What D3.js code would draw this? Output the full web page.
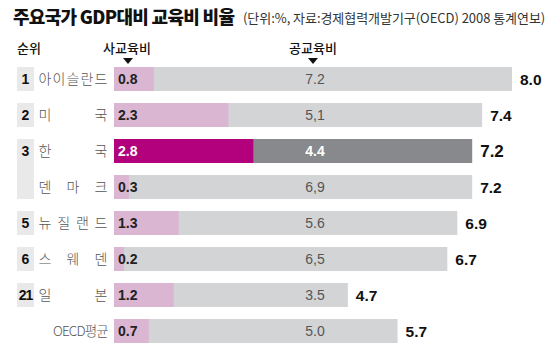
<!DOCTYPE html>
<html><head><meta charset="utf-8">
<script src="https://cdn.jsdelivr.net/npm/d3@7"></script>
<style>
html,body{margin:0;padding:0;background:#fff;}
svg{display:block;}
</style></head>
<body>
<svg id="chart" width="555" height="356"></svg>
<script>
const ranks = ["1","2","3","","5","6","21",""];
const countries = ["아이슬란드","미국","한국","덴마크","뉴질랜드","스웨덴","일본","OECD평균"];
const privateEdu = [0.8,2.3,2.8,0.3,1.3,0.2,1.2,0.7];
const publicEdu = [7.2,5.1,4.4,6.9,5.6,6.5,3.5,5.0];
const publicLabels = ["7.2","5,1","4.4","6,9","5.6","6,5","3.5","5.0"];
const totals = [8.0,7.4,7.2,7.2,6.9,6.7,4.7,5.7];
const highlight = "한국";

const KR = "'Noto Sans CJK KR','Noto Sans',sans-serif";
const NUM = "'Liberation Sans',Arial,sans-serif";

const svg = d3.select("#chart");
const y = d3.scaleBand().domain(countries).range([67, 343]).paddingInner(1/3).paddingOuter(0);
const x = d3.scaleLinear().domain([0, 8]).range([114, 512]);
const bh = y.bandwidth();

// title
svg.append("text").attr("x", 13).attr("y", 24)
  .attr("font-family", KR).attr("font-weight", 900).attr("font-size", 18)
  .attr("fill", "#111").attr("letter-spacing", -0.7)
  .text("주요국가 GDP대비 교육비 비율");
svg.append("text").attr("x", 243).attr("y", 23)
  .attr("font-family", KR).attr("font-size", 13).attr("fill", "#333")
  .attr("letter-spacing", -0.05)
  .text("(단위:%, 자료:경제협력개발기구(OECD) 2008 통계연보)");

// headers
svg.append("text").attr("x", 17).attr("y", 53).attr("font-family", KR).attr("font-size", 13)
  .attr("font-weight", 500).attr("fill", "#111").text("순위");
svg.append("text").attr("x", 127).attr("y", 53).attr("text-anchor", "middle").attr("font-family", KR)
  .attr("font-size", 13).attr("font-weight", 500).attr("fill", "#111").text("사교육비");
svg.append("text").attr("x", 313).attr("y", 53).attr("text-anchor", "middle").attr("font-family", KR)
  .attr("font-size", 13).attr("font-weight", 500).attr("fill", "#111").text("공교육비");
[128, 313].forEach(cx => {
  svg.append("path").attr("d", `M${cx-5},58 L${cx+5},58 L${cx},64 Z`).attr("fill", "#111");
});

// rank boxes
const rankGroups = [];
ranks.forEach((r, i) => {
  if (r !== "") rankGroups.push({r, start: i, end: i});
  else if (i === 3) rankGroups[rankGroups.length - 1].end = i;
});
rankGroups.forEach(g => {
  const y0 = y(countries[g.start]);
  const y1 = y(countries[g.end]) + bh;
  svg.append("rect").attr("x", 17).attr("y", y0).attr("width", 17).attr("height", y1 - y0)
    .attr("fill", "#e9e9e9");
  svg.append("text").attr("x", 25.5).attr("y", y0 + bh / 2 + 5).attr("text-anchor", "middle")
    .attr("font-family", NUM).attr("font-weight", 700).attr("font-size", 14)
    .attr("letter-spacing", g.r.length > 1 ? -1 : 0)
    .attr("fill", "#111").text(g.r);
});

// country names
const nx0 = 38, nx1 = 108;
countries.forEach((c, i) => {
  const cy = y(c) + bh / 2 + 5;
  if (/^[가-힣]+$/.test(c)) {
    const chars = Array.from(c);
    const cw = 14;
    const n = chars.length;
    chars.forEach((ch, j) => {
      const cx = n > 1 ? nx0 + cw / 2 + j * (nx1 - nx0 - cw) / (n - 1) : nx0 + cw / 2;
      svg.append("text").attr("x", cx).attr("y", cy).attr("text-anchor", "middle")
        .attr("font-family", KR).attr("font-size", 14).attr("font-weight", 300)
        .attr("fill", "#555").text(ch);
    });
  } else {
    svg.append("text").attr("x", nx1).attr("y", cy).attr("text-anchor", "end")
      .attr("font-family", KR).attr("font-size", 13.5).attr("font-weight", 300)
      .attr("letter-spacing", -0.8).attr("fill", "#555").text(c);
  }
});

// bars
const rows = svg.append("g").selectAll("g").data(countries).join("g");
rows.append("rect").attr("x", x(0)).attr("y", d => y(d)).attr("height", bh)
  .attr("width", (d, i) => x(totals[i]) - x(0))
  .attr("fill", d => d === highlight ? "#88898c" : "#d3d4d6");
rows.append("rect").attr("x", x(0)).attr("y", d => y(d)).attr("height", bh)
  .attr("width", (d, i) => x(privateEdu[i]) - x(0))
  .attr("fill", d => d === highlight ? "#b3007c" : "#dbb6d2");

// private labels
rows.append("text").attr("x", 118).attr("y", d => y(d) + bh / 2 + 5)
  .attr("font-family", NUM).attr("font-weight", 700).attr("font-size", 14)
  .attr("fill", d => d === highlight ? "#fff" : "#222")
  .text((d, i) => privateEdu[i].toFixed(1));
// public labels
rows.append("text").attr("x", 315).attr("y", d => y(d) + bh / 2 + 5).attr("text-anchor", "middle")
  .attr("font-family", NUM).attr("font-size", 14)
  .attr("font-weight", d => d === highlight ? 700 : 400)
  .attr("fill", d => d === highlight ? "#fff" : "#555")
  .text((d, i) => publicLabels[i]);
// totals
rows.append("text").attr("x", (d, i) => x(totals[i]) + 8).attr("y", d => y(d) + bh / 2 + 6)
  .attr("font-family", NUM).attr("font-weight", 700)
  .attr("font-size", d => d === highlight ? 17 : 15.5)
  .attr("fill", "#111")
  .text((d, i) => totals[i].toFixed(1));
</script>
</body></html>
